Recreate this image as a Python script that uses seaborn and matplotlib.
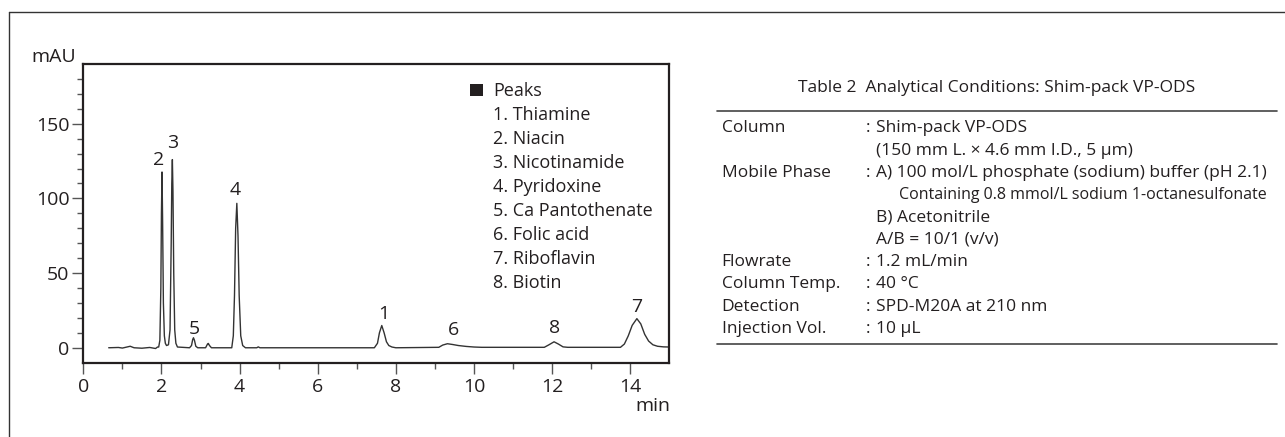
import matplotlib
matplotlib.use("Agg")
import matplotlib.pyplot as plt
from matplotlib.lines import Line2D
from matplotlib.patches import Rectangle
from matplotlib.ticker import FixedLocator
import seaborn as sns
import pandas as pd

# chromatogram trace (time in min, signal in mAU)
time_min = [0.65, 0.9, 1.0, 1.2, 1.3, 1.5, 1.7, 1.85, 1.9,
            1.93, 1.96, 1.985, 2.0, 2.015, 2.03, 2.05, 2.075, 2.1, 2.13,
            2.18, 2.22, 2.25, 2.265, 2.28, 2.295, 2.315, 2.34, 2.37, 2.41,
            2.72, 2.77, 2.8, 2.82, 2.845, 2.88, 2.93,
            3.13, 3.18, 3.2, 3.23, 3.28,
            3.8, 3.84, 3.87, 3.9, 3.93, 3.96, 3.99, 4.03, 4.08, 4.15,
            4.44, 4.48, 4.52,
            7.45, 7.53, 7.58, 7.64, 7.7, 7.76, 7.82, 7.9, 8.0,
            9.1, 9.2, 9.32, 9.45, 9.6, 9.8, 10.0, 10.2,
            11.8, 11.92, 12.05, 12.16, 12.28, 12.4,
            13.75, 13.85, 13.95, 14.05, 14.17, 14.27, 14.37, 14.47, 14.58, 14.7, 14.85, 15.0]
signal_mau = [0.0, 0.2, -0.2, 1.0, 0.0, -0.3, 0.2, -0.5, 0.5,
              0.5, 5, 40, 90, 117.7, 85, 30, 8, 3, 1.5,
              2, 12, 70, 110, 126, 105, 50, 12, 3, 0.5,
              0.0, 1.5, 5.5, 6.7, 5, 1, 0.0,
              0.0, 2.5, 2.9, 1.5, 0.0,
              0.0, 8, 35, 80, 96.7, 75, 35, 8, 1.5, 0.0,
              0.0, 0.6, 0.0,
              0.0, 3, 10, 14.9, 10, 4, 1.5, 0.5, 0.0,
              0.3, 1.8, 2.7, 2.2, 1.5, 0.9, 0.5, 0.3,
              0.3, 2, 4, 2.5, 0.6, 0.3,
              0.3, 2.5, 8, 15, 19.5, 16, 9, 4.5, 2, 1, 0.6, 0.5]

# peak number labels
peak_ids = ["2", "3", "5", "4", "1", "6", "8", "7"]
peak_label_t = [1.92, 2.29, 2.84, 3.9, 7.68, 9.48, 12.06, 14.17]
peak_label_v = [125.5, 137, 12.7, 105.5, 22.7, 12.2, 13.3, 27.3]

legend_title = "Peaks"
compounds = ["1. Thiamine", "2. Niacin", "3. Nicotinamide", "4. Pyridoxine",
             "5. Ca Pantothenate", "6. Folic acid", "7. Riboflavin", "8. Biotin"]

x_ticks = [0, 2, 4, 6, 8, 10, 12, 14]
y_ticks = [0, 50, 100, 150]

table_title = "Table 2  Analytical Conditions: Shim-pack VP-ODS"
cond_labels = ["Column", "", "Mobile Phase", "", "", "", "Flowrate",
               "Column Temp.", "Detection", "Injection Vol."]
cond_values = ["Shim-pack VP-ODS", "(150 mm L. × 4.6 mm I.D., 5 µm)",
               "A) 100 mol/L phosphate (sodium) buffer (pH 2.1)",
               "Containing 0.8 mmol/L sodium 1-octanesulfonate",
               "B) Acetonitrile", "A/B = 10/1 (v/v)", "1.2 mL/min",
               "40 °C", "SPD-M20A at 210 nm", "10 µL"]
cond_indent = [0, 0, 0, 1, 0, 0, 0, 0, 0, 0]

sns.set_style("ticks")
plt.rcParams["font.family"] = ["Open Sans", "DejaVu Sans"]
ink = "#231f20"

W, H = 1285, 437
fig = plt.figure(figsize=(W / 100, H / 100), dpi=100)


def fx(px):
    return px / W


def fy(py):
    return 1 - py / H


ax = fig.add_axes([fx(83.3), fy(362.7), fx(586), 298.7 / H])
df = pd.DataFrame({"t": time_min, "v": signal_mau})
sns.lineplot(data=df, x="t", y="v", ax=ax, color="#333333", lw=1.0,
             sort=False, estimator=None)
ax.set_xlim(0, 15)
ax.set_ylim(-10, 190)
ax.set_xlabel("")
ax.set_ylabel("")
ax.set_xticks(x_ticks)
ax.set_yticks(y_ticks)
ax.xaxis.set_minor_locator(FixedLocator([1, 3, 5, 7, 9, 11, 13]))
ax.yaxis.set_minor_locator(FixedLocator([v for v in range(10, 190, 10) if v % 50]))
ax.tick_params(which="major", length=8, width=1, color="#555555",
               labelsize=14, labelcolor=ink, pad=2)
ax.tick_params(axis="x", which="major", pad=3)
ax.tick_params(which="minor", length=4, width=1, color="#555555")
for s in ax.spines.values():
    s.set_color(ink)
    s.set_linewidth(1.6)

for lab, t, v in zip(peak_ids, peak_label_t, peak_label_v):
    ax.text(t, v, lab, ha="center", va="center", fontsize=14, color=ink)

fig.text(fx(54), fy(57), "mAU", ha="center", va="center", fontsize=14, color=ink)
fig.text(fx(670), fy(406), "min", ha="right", va="center", fontsize=14, color=ink)

# legend block
fig.add_artist(Rectangle((fx(470), fy(96)), fx(13), 12 / H, transform=fig.transFigure,
                         color=ink, lw=0))
fig.text(fx(493), fy(90.5), legend_title, ha="left", va="center", fontsize=13, color=ink)
for i, c in enumerate(compounds):
    fig.text(fx(493), fy(114.6 + 24.1 * i), c, ha="left", va="center",
             fontsize=13, color=ink)

# conditions table
fig.text(fx(997), fy(88), table_title, ha="center", va="center", fontsize=12.5, color=ink)
for yy in (110.7, 344.3):
    fig.add_artist(Line2D([fx(717.3), fx(1276.7)], [fy(yy), fy(yy)],
                          transform=fig.transFigure, color="#444444", lw=1.2))
for i, (lab, val, ind) in enumerate(zip(cond_labels, cond_values, cond_indent)):
    yy = fy(128.3 + 22.3 * i)
    if lab:
        fig.text(fx(721.7), yy, lab, ha="left", va="center", fontsize=12.5, color=ink)
        fig.text(fx(866), yy, ":", ha="left", va="center", fontsize=12.5, color=ink)
    fig.text(fx(899 if ind else 876), yy, val, ha="left", va="center",
             fontsize=11.5 if ind else 12.5, color=ink)

# outer frame (top and left edges only)
fig.add_artist(Line2D([fx(9.3), 1], [fy(12.3), fy(12.3)], transform=fig.transFigure,
                      color="#333333", lw=1))
fig.add_artist(Line2D([fx(9.3), fx(9.3)], [fy(12.3), 0], transform=fig.transFigure,
                      color="#333333", lw=1))

fig.savefig("out.png", dpi=100)
